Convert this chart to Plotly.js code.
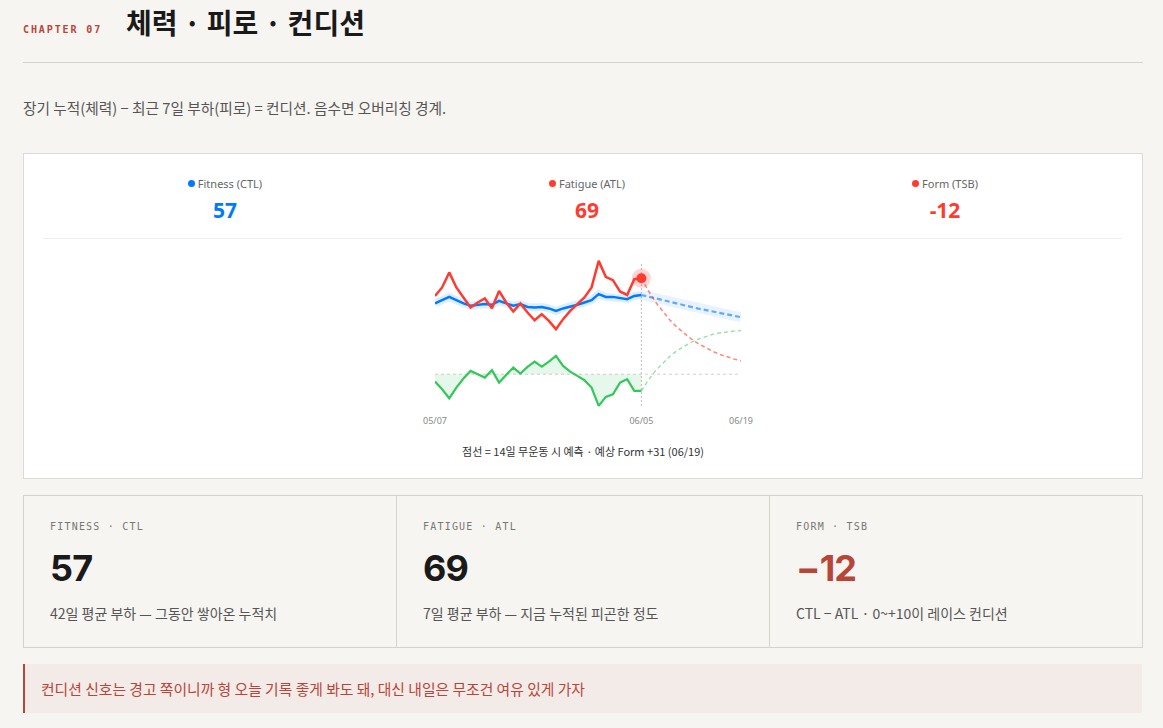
<!DOCTYPE html>
<html>
<head>
<meta charset="utf-8">
<script src="https://cdn.plot.ly/plotly-3.0.1.min.js"></script>
<style>
  html, body { margin:0; padding:0; }
  body { width:1163px; height:728px; background:#f7f5f1; position:relative; overflow:hidden;
         font-family:"Noto Sans CJK KR","Noto Sans",sans-serif; }
  .abs { position:absolute; white-space:nowrap; }
  #chapter { left:23px; top:22px; font-family:"DejaVu Sans Mono","Liberation Mono",monospace; font-size:10px;
             font-weight:bold; letter-spacing:1.9px; color:#b8453a; line-height:16px; }
  #title { left:126px; top:2px; font-size:28px; font-weight:bold; color:#1a1a1a; line-height:40px; }
  #hr { left:23px; top:62px; width:1120px; height:1px; background:#d6d3ce; }
  #sub { left:23px; top:98px; font-size:14.7px; color:#555; line-height:20px; }
  #card { left:23px; top:153px; width:1118px; height:324px; background:#fff; border:1px solid #dedbd6; }
  .stat { top:175px; width:360px; text-align:center; }
  .stat .lab { font-family:"Noto Sans",sans-serif; font-size:11px; color:#666; line-height:18px; }
  .stat .dot { display:inline-block; width:7px; height:7px; border-radius:50%; margin-right:3px; vertical-align:1px; }
  .stat .val { font-family:"Noto Sans",sans-serif; font-size:21px; font-weight:bold; line-height:30px; margin-top:2px; }
  #div1 { left:43px; top:238px; width:1079px; height:1px; background:#eeeeee; }
  #chart { left:415px; top:250px; width:346px; height:189px; }
  #cap { left:383px; top:442px; width:400px; text-align:center; font-size:11px; color:#333; line-height:18px; }
  #cards { left:23px; top:495px; width:1118px; height:151px; border:1px solid #d6d3ce; }
  .bc { position:absolute; top:0; height:151px; width:372px; }
  .bc .k { position:absolute; left:26px; top:24px; font-family:"DejaVu Sans Mono","Liberation Mono",monospace; font-size:10px;
           letter-spacing:1.2px; color:#777; line-height:14px; }
  .bc .n { position:absolute; left:26px; top:50px; font-family:"Inter","Roboto",sans-serif; font-size:36px; font-weight:bold;
           color:#1a1a1a; line-height:44px; letter-spacing:-0.8px; }
  .bc .d { position:absolute; left:26px; top:107px; font-size:14px; color:#555; line-height:20px; }
  #callout { left:23px; top:664px; width:1117px; height:49px; background:#f2ebe7; border-left:2px solid #b8453a; }
  #callout span { position:absolute; left:16px; top:15px; font-size:14.8px; color:#b8453a; line-height:20px; }
</style>
</head>
<body>
<div id="chapter" class="abs">CHAPTER 07</div>
<div id="title" class="abs">체력 · 피로 · 컨디션</div>
<div id="hr" class="abs"></div>
<div id="sub" class="abs">장기 누적(체력) − 최근 7일 부하(피로) = 컨디션. 음수면 오버리칭 경계.</div>

<div id="card" class="abs"></div>
<div class="abs stat" style="left:45px;"><div class="lab"><span class="dot" style="background:#007aff"></span>Fitness (CTL)</div><div class="val" style="color:#007aff">57</div></div>
<div class="abs stat" style="left:407px;"><div class="lab"><span class="dot" style="background:#ff3b30"></span>Fatigue (ATL)</div><div class="val" style="color:#ff3b30">69</div></div>
<div class="abs stat" style="left:765px;"><div class="lab"><span class="dot" style="background:#ff3b30"></span>Form (TSB)</div><div class="val" style="color:#ff3b30">-12</div></div>
<div id="div1" class="abs"></div>
<div id="chart" class="abs"></div>
<div id="cap" class="abs">점선 = 14일 무운동 시 예측 · 예상 Form +31 (06/19)</div>

<div id="cards" class="abs">
  <div class="bc" style="left:0;"><div class="k">FITNESS · CTL</div><div class="n">57</div><div class="d">42일 평균 부하 — 그동안 쌓아온 누적치</div></div>
  <div class="bc" style="left:372px; border-left:1px solid #d6d3ce;"><div class="k">FATIGUE · ATL</div><div class="n">69</div><div class="d">7일 평균 부하 — 지금 누적된 피곤한 정도</div></div>
  <div class="bc" style="left:745px; border-left:1px solid #d6d3ce;"><div class="k">FORM · TSB</div><div class="n" style="color:#b8453a">−12</div><div class="d">CTL − ATL · 0~+10이 레이스 컨디션</div></div>
</div>

<div id="callout" class="abs"><span>컨디션 신호는 경고 쪽이니까 형 오늘 기록 좋게 봐도 돼, 대신 내일은 무조건 여유 있게 가자</span></div>

<script>
// ---- data ----
const histDates = ['2025-05-07','2025-05-08','2025-05-09','2025-05-10','2025-05-11','2025-05-12','2025-05-13','2025-05-14',
  '2025-05-15','2025-05-16','2025-05-17','2025-05-18','2025-05-19','2025-05-20','2025-05-21','2025-05-22','2025-05-23',
  '2025-05-24','2025-05-25','2025-05-26','2025-05-27','2025-05-28','2025-05-29','2025-05-30','2025-05-31','2025-06-01',
  '2025-06-02','2025-06-03','2025-06-04','2025-06-05'];
const ctl = [50.9,53.2,55.6,53.2,50.9,49.2,49.9,50.4,49.9,52.7,50.9,49.2,50.4,48.4,48.0,48.4,47.3,45.5,47.3,48.4,49.9,51.6,53.2,57.6,55.6,55.6,54.7,54.0,56.3,57];
const atl = [56.3,62.4,73.2,62.4,55.2,48.0,51.6,54.5,47.5,59.9,51.6,45.1,50.9,44.4,38.8,43.2,38.4,32.4,39.6,45.5,50.4,55.2,62.4,81.5,70.0,67.6,59.5,57.0,68.3,69];
const tsb = [-5.3,-10.8,-17.3,-9.6,-3.1,2.4,0.0,-2.4,2.9,-6.0,-0.5,4.8,0.5,5.3,9.1,5.5,9.1,13.2,6.0,1.9,-1.2,-4.3,-9.6,-22.8,-16.3,-14.4,-6.0,-3.6,-12.0,-12];

const projDates = ['2025-06-05','2025-06-06','2025-06-07','2025-06-08','2025-06-09','2025-06-10','2025-06-11','2025-06-12',
  '2025-06-13','2025-06-14','2025-06-15','2025-06-16','2025-06-17','2025-06-18','2025-06-19'];
const ctlProj = [57,55.7,54.4,53.1,51.9,50.7,49.5,48.4,47.2,46.1,45.1,44.0,43.0,42.0,41.0];
const atlProj = [69,59.8,51.8,45.0,39.0,33.8,29.3,25.4,22.0,19.1,16.5,14.3,12.4,11.0,9.6];
const tsbProj = [-12,-4.1,2.6,8.1,12.9,16.9,20.2,23.0,25.2,27.0,28.6,29.7,30.6,31.0,31.4];

const tickVals = ['2025-05-07','2025-06-05','2025-06-19'];
const tickText = ['05/07','06/05','06/19'];
const today = '2025-06-05';

const BLUE = '#007aff', RED = '#ff3b30', GREEN = '#34c759';

const traces = [
  {x: histDates, y: tsb, type:'scatter', mode:'lines', fill:'tozeroy', fillcolor:'rgba(52,199,89,0.12)',
   line:{color:GREEN, width:2.2}, hoverinfo:'skip'},
  {x: projDates, y: tsbProj, type:'scatter', mode:'lines', line:{color:'rgba(52,199,89,0.55)', width:1.3, dash:'4px,3px'}, hoverinfo:'skip'},
  {x: histDates, y: ctl, type:'scatter', mode:'lines', line:{color:'rgba(0,122,255,0.13)', width:8}, hoverinfo:'skip'},
  {x: projDates, y: ctlProj, type:'scatter', mode:'lines', line:{color:'rgba(0,122,255,0.09)', width:10}, hoverinfo:'skip'},
  {x: projDates, y: ctlProj, type:'scatter', mode:'lines', line:{color:'rgba(0,122,255,0.6)', width:2.2, dash:'5px,3px'}, hoverinfo:'skip'},
  {x: histDates, y: ctl, type:'scatter', mode:'lines', line:{color:BLUE, width:2.5}, hoverinfo:'skip'},
  {x: projDates, y: atlProj, type:'scatter', mode:'lines', line:{color:'rgba(255,59,48,0.6)', width:1.6, dash:'4px,3px'}, hoverinfo:'skip'},
  {x: histDates, y: atl, type:'scatter', mode:'lines', line:{color:RED, width:2.5}, hoverinfo:'skip'},
  {x: [today], y: [atl[atl.length-1]], type:'scatter', mode:'markers', marker:{color:'rgba(255,59,48,0.22)', size:19}, hoverinfo:'skip'},
  {x: [today], y: [atl[atl.length-1]], type:'scatter', mode:'markers', marker:{color:RED, size:10}, hoverinfo:'skip'}
];

const layout = {
  width:346, height:189,
  margin:{l:20, r:20, t:6, b:30},
  paper_bgcolor:'rgba(0,0,0,0)', plot_bgcolor:'rgba(0,0,0,0)',
  showlegend:false,
  xaxis:{type:'date', range:['2025-05-07','2025-06-19'], tickvals:tickVals, ticktext:tickText, showgrid:false,
         zeroline:false, showline:false, ticks:'', ticklabelstandoff:5,
         tickfont:{family:'Noto Sans, sans-serif', size:9, color:'#888'}},
  yaxis:{range:[-25,85], visible:false, showgrid:false, zeroline:false},
  shapes:[
    {type:'line', xref:'x', yref:'y', x0:'2025-05-07', x1:'2025-06-19', y0:0, y1:0, line:{color:'#d0d0d0', width:1, dash:'3px,3px'}, layer:'below'},
    {type:'line', xref:'x', yref:'paper', x0:today, x1:today, y0:0.02, y1:0.96, line:{color:'#bbbbbb', width:1, dash:'2px,2px'}, layer:'below'}
  ]
};

Plotly.newPlot('chart', traces, layout, {displayModeBar:false, staticPlot:true});
</script>
</body>
</html>
